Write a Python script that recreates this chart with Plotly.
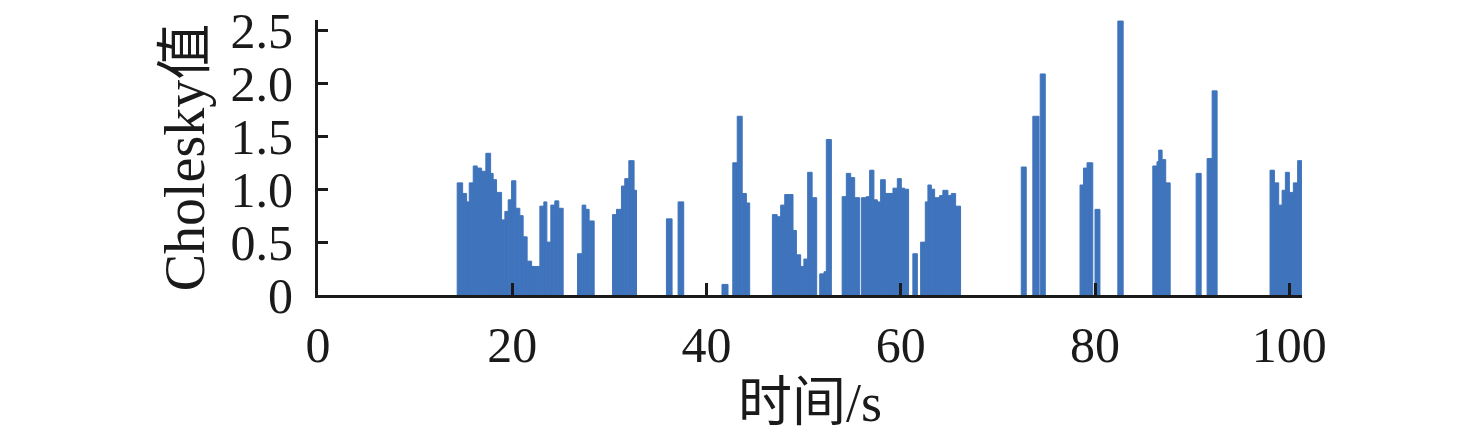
import plotly.graph_objects as go

# Step data: start time (s), end time (s), Cholesky value
t_start = [
    14.33, 14.89, 15.30, 15.57, 15.98, 16.39, 16.84, 17.28, 17.77, 18.03, 18.38, 18.90, 19.24, 19.58,
    19.93, 20.37, 20.78, 21.12, 21.53, 21.99, 22.84, 23.25, 23.56, 23.97, 24.38, 24.79,
    26.72, 27.19, 27.57, 27.91,
    30.32, 30.73, 31.24, 31.58, 32.00, 32.54,
    35.87, 37.07, 41.59,
    42.70, 43.16, 43.67, 44.10,
    46.78, 47.27, 47.63, 48.05, 48.90, 49.25, 49.69, 50.02, 50.41, 50.87, 51.65, 52.09, 52.33,
    53.96, 54.39, 54.84, 55.25, 55.94, 56.45, 56.79, 57.23, 57.58, 57.92, 58.40, 59.19, 59.64, 60.05, 60.39,
    61.24, 62.04, 62.52, 62.79, 63.14, 63.48, 63.99, 64.33, 64.85, 65.20, 65.64,
    72.40, 73.59, 74.35,
    78.45, 78.81, 79.17, 79.99,
    82.34,
    85.94, 86.37, 86.55, 86.90, 87.27,
    90.40, 91.53, 92.05,
    98.01, 98.46, 98.90, 99.25, 99.59, 100.00, 100.41, 100.85,
]
t_end = [
    14.89, 15.30, 15.57, 15.98, 16.39, 16.84, 17.28, 17.77, 18.03, 18.38, 18.90, 19.24, 19.58, 19.93,
    20.37, 20.78, 21.12, 21.53, 21.99, 22.84, 23.25, 23.56, 23.97, 24.38, 24.79, 25.24,
    27.19, 27.57, 27.91, 28.43,
    30.73, 31.24, 31.58, 32.00, 32.54, 32.79,
    36.45, 37.65, 42.21,
    43.16, 43.67, 44.10, 44.44,
    47.27, 47.63, 48.05, 48.90, 49.25, 49.69, 50.02, 50.41, 50.87, 51.34, 52.09, 52.33, 52.85,
    54.39, 54.84, 55.25, 55.76, 56.45, 56.79, 57.23, 57.58, 57.92, 58.40, 59.19, 59.64, 60.05, 60.39, 60.80,
    61.70, 62.52, 62.79, 63.14, 63.48, 63.99, 64.33, 64.85, 65.20, 65.64, 66.15,
    72.91, 74.23, 74.87,
    78.81, 79.17, 79.76, 80.50,
    82.89,
    86.37, 86.55, 86.90, 87.27, 87.73,
    90.92, 92.05, 92.56,
    98.46, 98.90, 99.25, 99.59, 100.00, 100.41, 100.85, 101.29,
]
values = [
    1.06, 0.96, 0.88, 1.06, 1.22, 1.20, 1.17, 1.34, 1.15, 1.09, 0.97, 0.71, 0.79, 0.90,
    1.08, 0.82, 0.75, 0.55, 0.32, 0.27, 0.84, 0.88, 0.50, 0.85, 0.89, 0.82,
    0.39, 0.85, 0.81, 0.70,
    0.76, 0.81, 1.03, 1.10, 1.27, 0.99,
    0.72, 0.88, 0.10,
    1.25, 1.69, 0.96, 0.87,
    0.76, 0.74, 0.85, 0.95, 0.61, 0.38, 0.27, 0.34, 1.16, 0.92, 0.20, 0.22, 1.47,
    0.93, 1.15, 1.11, 0.92, 0.92, 0.93, 1.18, 0.90, 0.88, 1.09, 0.96, 1.01, 1.10, 1.01, 1.00,
    0.39, 0.50, 0.88, 1.04, 1.00, 0.92, 0.94, 0.99, 0.94, 0.96, 0.84,
    1.21, 1.69, 2.09,
    1.04, 1.20, 1.25, 0.81,
    2.59,
    1.22, 1.26, 1.37, 1.28, 1.06,
    1.15, 1.29, 1.93,
    1.18, 1.06, 0.85, 0.99, 1.16, 0.97, 1.06, 1.27,
]

x_tickvals = [0, 20, 40, 60, 80, 100]
x_ticktext = ["0", "20", "40", "60", "80", "100"]
y_tickvals = [0, 0.5, 1.0, 1.5, 2.0, 2.5]
y_ticktext = ["0", "0.5", "1.0", "1.5", "2.0", "2.5"]

durations = [e - s for s, e in zip(t_start, t_end)]

BAR = "#3F74BC"
AX = "#1a1a1a"
FONT = "Liberation Serif, Noto Sans CJK SC, serif"

fig = go.Figure(
    go.Bar(
        x=t_start,
        y=values,
        width=durations,
        offset=0,
        marker=dict(color=BAR, line=dict(width=1, color=BAR)),
        hoverinfo="skip",
    )
)

fig.update_layout(
    width=1476,
    height=442,
    margin=dict(l=318, r=174, t=20, b=147, autoexpand=False),
    paper_bgcolor="white",
    plot_bgcolor="white",
    showlegend=False,
    font=dict(family=FONT, color=AX, size=50),
)

fig.update_xaxes(
    range=[0, 101.3],
    tickvals=x_tickvals,
    ticktext=x_ticktext,
    ticks="inside",
    ticklen=12,
    tickwidth=3,
    tickcolor=AX,
    showline=True,
    linewidth=3,
    linecolor=AX,
    showgrid=False,
    zeroline=False,
    automargin=False,
    tickfont=dict(family=FONT, size=50, color=AX),
    ticklabelstandoff=4,
    title=dict(text="时间/s", font=dict(family=FONT, size=54, color=AX), standoff=4),
)

fig.update_yaxes(
    range=[0, 2.6],
    tickvals=y_tickvals,
    ticktext=y_ticktext,
    ticks="inside",
    ticklen=10,
    tickwidth=3,
    tickcolor=AX,
    showline=True,
    linewidth=3,
    linecolor=AX,
    showgrid=False,
    zeroline=False,
    automargin=False,
    tickfont=dict(family=FONT, size=50, color=AX),
    ticklabelstandoff=12,
    title=dict(text="Cholesky值", font=dict(family=FONT, size=56, color=AX), standoff=8),
)

fig.write_html(
    "out.html",
    config={"displayModeBar": False},
    post_script="document.body.style.margin='0';",
)
